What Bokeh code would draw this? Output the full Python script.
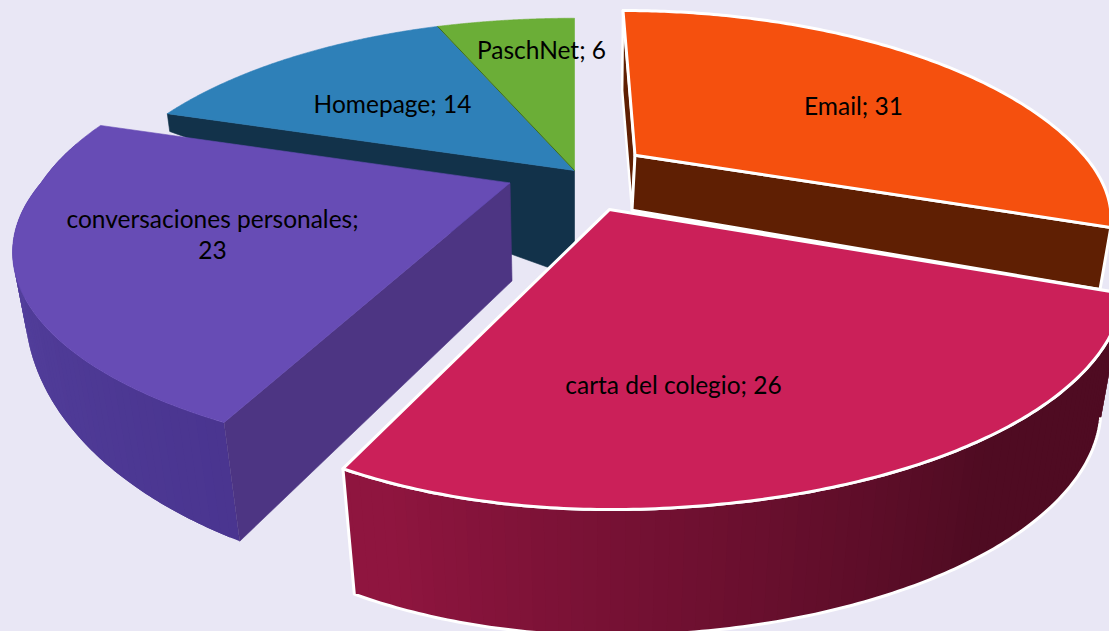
import numpy as np
from bokeh.plotting import figure
from bokeh.models import Range1d
from bokeh.core.properties import value
from bokeh.embed import file_html
from bokeh.resources import INLINE

categories = ["Email", "carta del colegio", "conversaciones personales", "Homepage", "PaschNet"]
values = [31, 26, 23, 14, 6]

BG = "#e9e7f5"
TOPS = ["#f5500e", "#cb2059", "#674cb5", "#2e80b8", "#6bae37"]
SIDES = ["#5f1f03", "#8f153f", "#4d3583", "#12324a", "#12324a"]
EXPLODE = [0.17, 0.20, 0.155, 0.0, 0.0]
FONT = "Lato"

# view / perspective
CX, CY, SX, SY, PERSP = 574.0, 170.0, 444.0, 197.0, 1 / 3
VP = (590.0, 3200.0)
# per-slice shape of the projected rim
SCALE_X = [(449, 449), (437, 485), (469, 469), (470, 470), (487, 487)]   # left, right of centre
SCALE_Y = [(193, 172), (197, 200), (205, 185), (203, 203), (203, 203)]   # back, front of centre
SKEW = [-16, 0, -18, -7, 0]
APEX_DY = [3, 0, 0, 0, 0]

def drop(x, y, d):
    """move a projected point down by d pixels toward the vertical vanishing point"""
    dx, dy = VP[0] - x, VP[1] - y
    n = np.hypot(dx, dy)
    return x + d * dx / n, y + d * dy / n

frac = np.cumsum([0] + values) / sum(values) * 2 * np.pi
slices = []
for i, v in enumerate(values):
    a0, a1 = frac[i], frac[i + 1]
    mid = (a0 + a1) / 2
    ox, oy = EXPLODE[i] * np.sin(mid), EXPLODE[i] * np.cos(mid)
    ax = CX + SX * ox / (1 + PERSP * oy)
    ay = CY - SY * oy / (1 + PERSP * oy) + APEX_DY[i]
    th = np.linspace(a0, a1, 160)
    X, Y = np.sin(th), np.cos(th)
    w = 1 + PERSP * Y
    sx = np.where(X < 0, SCALE_X[i][0], SCALE_X[i][1])
    sy = np.where(Y > 0, SCALE_Y[i][0], SCALE_Y[i][1])
    rx = ax + sx * X / w + SKEW[i] * np.maximum(Y, 0) / w
    ry = ay - sy * Y / w
    slices.append(dict(th=th, rx=rx, ry=ry, ax=float(ax), ay=float(ay), ox=ox, oy=oy))

def rim_depth(i, th):
    s = slices[i]
    Y = s["oy"] + np.cos(th)
    return {1: 126 + 0 * Y, 2: 25 - 98 * Y}.get(i, 18 + 0 * Y)

p = figure(width=1109, height=631, x_range=Range1d(0, 1109), y_range=Range1d(631, 0),
           x_axis_type=None, y_axis_type=None, toolbar_location=None, output_backend="svg",
           background_fill_color=BG, border_fill_color=BG, outline_line_color=None,
           min_border=0)

def poly(xs, ys, fill, line=None, lw=0):
    p.patch(list(xs), list(ys), fill_color=fill, line_color=line if line else fill,
            line_width=lw if line else 0.6, line_join="round")

def mix(c0, c1, t):
    a = np.array([int(c0[k:k + 2], 16) for k in (1, 3, 5)], float)
    b = np.array([int(c1[k:k + 2], 16) for k in (1, 3, 5)], float)
    m = a + (b - a) * t
    return "#%02x%02x%02x" % tuple(int(round(q)) for q in m)

def rim(i, mask, colour_at, outline=None, step=2):
    s = slices[i]
    th, rx, ry = s["th"][mask], s["rx"][mask], s["ry"][mask]
    d = rim_depth(i, th)
    bx, by = drop(rx, ry, d)
    # bands overlap their neighbour so that no seam shows between them
    for k in range(0, len(th) - 1, step):
        e = min(k + step + 2, len(th) - 1)
        c = colour_at(th[k])
        xs = list(rx[k:e + 1]) + list(bx[k:e + 1][::-1])
        ys = list(ry[k:e + 1]) + list(by[k:e + 1][::-1])
        p.patch(xs, ys, fill_color=c, line_color=None)
    if outline:
        p.line(list(rx) + list(bx[::-1]), list(ry) + list(by[::-1]),
               line_color=outline, line_width=3, line_join="round")

# ---- back group: Homepage and PaschNet
s3, s4 = slices[3], slices[4]
ax, ay = s3["ax"], s3["ay"]
bx0, by0 = s3["rx"][0], s3["ry"][0]
bbx, bby = drop(bx0, by0, 18)
poly([bx0, ax, ax, ax - 26, bbx], [by0, ay, ay + 75, ay + 97, bby], SIDES[3])
poly(list(s3["rx"]) + [ax], list(s3["ry"]) + [ay], TOPS[3])
poly(list(s4["rx"]) + [ax], list(s4["ry"]) + [ay], TOPS[4])
p.line([s4["rx"][0], ax], [s4["ry"][0], ay], line_color="#3f6b22", line_width=1)

# ---- Email
s0 = slices[0]
ax, ay = s0["ax"], s0["ay"]
ex0, ey0 = drop(s0["rx"][0], s0["ry"][0], 80)
poly([s0["rx"][0], ax, ax - 3, ex0], [s0["ry"][0], ay, ay + 55, ey0], SIDES[0], "white", 2.5)
ex1, ey1 = drop(s0["rx"][-1], s0["ry"][-1], 63)
poly([s0["rx"][-1], ax, ax - 3, ex1], [s0["ry"][-1], ay, ay + 55, ey1], SIDES[0], "white", 3)
poly(list(s0["rx"]) + [ax], list(s0["ry"]) + [ay], TOPS[0], "white", 3)

# ---- conversaciones personales
s2 = slices[2]
ax, ay = s2["ax"], s2["ay"]
rim(2, s2["th"] < np.radians(282),
    lambda t: mix("#4a3590", "#5a48a6", (t - s2["th"][0]) / (s2["th"][-1] - s2["th"][0])))
ex, ey = drop(s2["rx"][0], s2["ry"][0], float(rim_depth(2, s2["th"][0])))
poly([s2["rx"][0], ax, ax + 2, ex], [s2["ry"][0], ay, ay + 98, ey], SIDES[2])
poly(list(s2["rx"]) + [ax], list(s2["ry"]) + [ay], TOPS[2])

# ---- carta del colegio
s1 = slices[1]
ax, ay = s1["ax"], s1["ay"]
rim(1, np.ones_like(s1["th"], bool),
    lambda t: mix("#4f0b22", "#8f153f", min(1, max(0, (t - np.radians(145)) / np.radians(55)))),
    outline="white")
poly(list(s1["rx"]) + [ax], list(s1["ry"]) + [ay], TOPS[1], "white", 3)

# ---- labels
labels = [f"{c}; {v}" for c, v in zip(categories, values)]
lx = [853, 673, 212, 392, 541]
ly = [104.5, 383.5, 217.5, 102.5, 48.5]
labels[2] = f"{categories[2]};"
lx.append(212); ly.append(249.5); labels.append(f"{values[2]}")
p.text(lx, ly, text=labels, text_font=value(FONT), text_font_size="24.5px", text_color="#000000",
       text_align="center", text_baseline="middle")

html = file_html(p, INLINE)
html = html.replace("<head>", "<head><style>html,body{margin:0;padding:0;overflow:hidden;background:%s}</style>" % BG, 1)
open("out.html", "w").write(html)
